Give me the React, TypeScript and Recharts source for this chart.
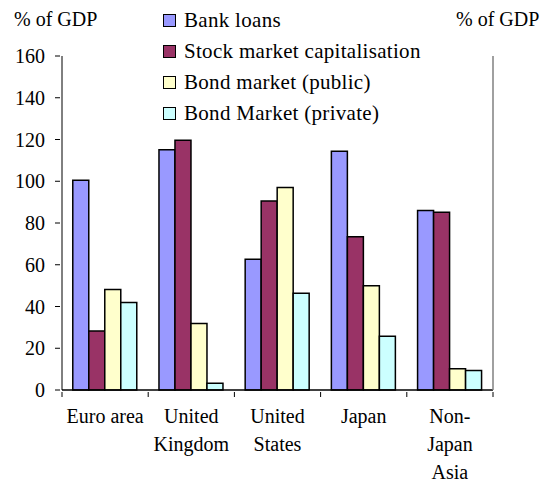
import React from 'react';
import { BarChart, Bar, XAxis, YAxis, Legend } from 'recharts';

const categories = ['Euro area', 'United Kingdom', 'United States', 'Japan', 'Non-Japan Asia'];
const categoryLines: string[][] = [
  ['Euro area'],
  ['United', 'Kingdom'],
  ['United', 'States'],
  ['Japan'],
  ['Non-', 'Japan', 'Asia'],
];
const bankLoans = [100.5, 115.1, 62.6, 114.4, 86.0];
const stockMarket = [28.3, 119.6, 90.5, 73.4, 85.2];
const bondPublic = [48.2, 31.9, 97.0, 50.0, 10.2];
const bondPrivate = [41.9, 3.2, 46.3, 25.7, 9.4];
const yTicks = [0, 20, 40, 60, 80, 100, 120, 140, 160];

const seriesNames = ['Bank loans', 'Stock market capitalisation', 'Bond market (public)', 'Bond Market (private)'];
const seriesColors = ['#9999FF', '#993366', '#FFFFCC', '#CCFFFF'];

const data = categories.map((c, i) => ({
  category: c,
  lines: categoryLines[i],
  bank: bankLoans[i],
  stock: stockMarket[i],
  public: bondPublic[i],
  private: bondPrivate[i],
}));

const FONT = '"Liberation Serif", "Times New Roman", serif';
const BAND = (493 - 62) / categories.length;

const LeftTick = (props: any) => {
  const { x, y, payload } = props;
  return (
    <g>
      <line x1={x - 5} x2={x} y1={y} y2={y} stroke="#000" strokeWidth={1} />
      <text x={x - 15} y={y} dy={7} textAnchor="end" fontFamily={FONT} fontSize={20} fill="#000">
        {payload.value}
      </text>
    </g>
  );
};

const RightTick = (props: any) => {
  const { x, y, payload } = props;
  return (
    <g>
      <line x1={x - 5} x2={x + 5} y1={y} y2={y} stroke="#808080" strokeWidth={1} />
      <text x={x + 15} y={y} dy={7} textAnchor="start" fontFamily={FONT} fontSize={20} fill="#000">
        {payload.value}
      </text>
    </g>
  );
};

const XTick = (props: any) => {
  const { x, y, payload, index } = props;
  const lines = categoryLines[index] || [payload.value];
  const left = x - BAND / 2;
  const right = x + BAND / 2;
  return (
    <g>
      <line x1={left} x2={left} y1={y} y2={y + 5} stroke="#000" strokeWidth={1} />
      {index === categories.length - 1 && (
        <line x1={right} x2={right} y1={y} y2={y + 5} stroke="#000" strokeWidth={1} />
      )}
      <text textAnchor="middle" fontFamily={FONT} fontSize={20} fill="#000">
        {lines.map((l: string, i: number) => (
          <tspan key={i} x={x} y={y + 31 + i * 28}>
            {l}
          </tspan>
        ))}
      </text>
    </g>
  );
};

const LegendContent = () => (
  <div style={{ fontFamily: FONT, fontSize: 21, color: '#000' }}>
    {seriesNames.map((n, i) => (
      <div key={n} style={{ display: 'flex', alignItems: 'center', height: 31, whiteSpace: 'nowrap', letterSpacing: 0.3 }}>
        <span
          style={{
            display: 'inline-block',
            width: 11,
            height: 11,
            background: seriesColors[i],
            border: '1.5px solid #000',
            marginRight: 8,
          }}
        />
        <span>{n}</span>
      </div>
    ))}
  </div>
);

export default function App() {
  return (
    <div style={{ position: 'absolute', left: 0, top: 0, width: 545, height: 483, background: '#fff' }}>
      <div style={{ position: 'absolute', left: 14, top: 8, fontFamily: FONT, fontSize: 20, whiteSpace: 'nowrap' }}>% of GDP</div>
      <div style={{ position: 'absolute', left: 456, top: 8, fontFamily: FONT, fontSize: 20, whiteSpace: 'nowrap' }}>% of GDP</div>
      <BarChart
        width={545}
        height={483}
        data={data}
        margin={{ top: 56, right: 0, bottom: 0, left: 0 }}
        barCategoryGap="12.5%"
        barGap={0}
      >
        <XAxis
          dataKey="category"
          height={93}
          axisLine={{ stroke: '#000', strokeWidth: 1.5 }}
          tickLine={false}
          tickSize={0}
          tick={<XTick />}
          interval={0}
        />
        <YAxis
          yAxisId="left"
          orientation="left"
          width={62}
          domain={[0, 160]}
          ticks={yTicks}
          axisLine={{ stroke: '#000', strokeWidth: 1 }}
          tickLine={false}
          tickSize={0}
          tick={<LeftTick />}
        />
        <YAxis
          yAxisId="right"
          orientation="right"
          width={52}
          domain={[0, 160]}
          ticks={yTicks}
          axisLine={{ stroke: '#808080', strokeWidth: 1.5 }}
          tickLine={false}
          tickSize={0}
          tick={<RightTick />}
        />
        <Legend
          layout="vertical"
          align="center"
          verticalAlign="middle"
          wrapperStyle={{ top: 5, left: 163, width: 'auto' }}
          content={<LegendContent />}
        />
        <Bar yAxisId="left" dataKey="bank" name={seriesNames[0]} fill={seriesColors[0]} stroke="#000" strokeWidth={1.5} isAnimationActive={false} />
        <Bar yAxisId="left" dataKey="stock" name={seriesNames[1]} fill={seriesColors[1]} stroke="#000" strokeWidth={1.5} isAnimationActive={false} />
        <Bar yAxisId="left" dataKey="public" name={seriesNames[2]} fill={seriesColors[2]} stroke="#000" strokeWidth={1.5} isAnimationActive={false} />
        <Bar yAxisId="left" dataKey="private" name={seriesNames[3]} fill={seriesColors[3]} stroke="#000" strokeWidth={1.5} isAnimationActive={false} />
      </BarChart>
    </div>
  );
}
